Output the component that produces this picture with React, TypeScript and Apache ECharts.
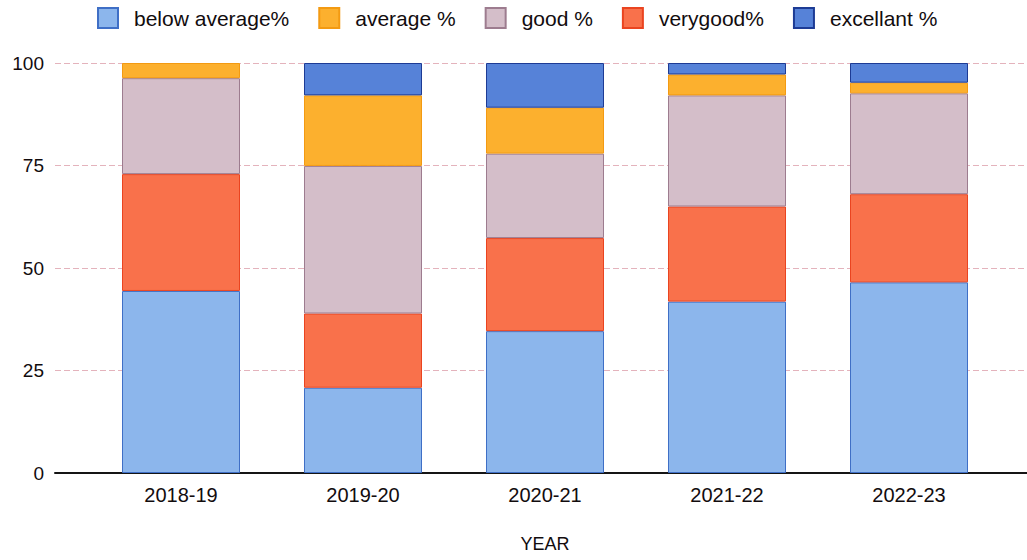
import React, { useEffect, useRef } from "react";
import * as echarts from "echarts";

// Academic years on the x axis
const years = ["2018-19", "2019-20", "2020-21", "2021-22", "2022-23"];

// Share of students (%) per grade band, per year
const belowAverage = [44.4, 20.8, 34.6, 41.8, 46.5];
const veryGood = [28.5, 18.1, 22.7, 23.2, 21.5];
const good = [23.4, 36.0, 20.6, 27.1, 24.6];
const average = [3.7, 17.2, 11.2, 5.1, 2.6];
const excellent = [0, 7.9, 10.9, 2.8, 4.8];

const yTicks = [0, 25, 50, 75, 100];

const legendOrder = ["below average%", "average %", "good %", "verygood%", "excellant %"];

const FONT = "'Liberation Sans', Arial, sans-serif";
const TEXT = "#120c0e";

export default function App() {
  const ref = useRef<HTMLDivElement>(null);

  useEffect(() => {
    if (!ref.current) return;
    const chart = echarts.init(ref.current, undefined, { renderer: "svg" });

    // a zero-height segment gets no outline so it leaves no stray line
    const seg = (name: string, data: number[], color: string, border: string) => ({
      name,
      type: "bar",
      stack: "total",
      xAxisIndex: 1,
      yAxisIndex: 1,
      barWidth: 118,
      data: data.map((v) => (v === 0 ? { value: v, itemStyle: { borderWidth: 0 } } : v)),
      itemStyle: { color, borderColor: border, borderWidth: 1 },
    });

    chart.setOption({
      animation: false,
      backgroundColor: "#ffffff",
      textStyle: { fontFamily: FONT },
      legend: {
        left: 92,
        top: 2,
        icon: "rect",
        itemWidth: 20,
        itemHeight: 20,
        itemGap: 29,
        data: legendOrder,
        textStyle: {
          fontFamily: FONT,
          fontSize: 21,
          color: TEXT,
          padding: [0, 0, 0, 11],
        },
      },
      grid: [
        // wide grid: value labels, dashed guides and the zero line
        { left: 55, right: 0, top: 63, bottom: 87, outerBoundsMode: "none", containLabel: false },
        // bar grid
        { left: 90, right: 27, top: 63, bottom: 87, outerBoundsMode: "none", containLabel: false },
      ],
      xAxis: [
        {
          type: "category",
          gridIndex: 0,
          data: years,
          axisLabel: { show: false },
          axisTick: { show: false },
          axisLine: { show: true, lineStyle: { color: "#151515", width: 2 } },
          splitLine: { show: false },
        },
        {
          type: "category",
          gridIndex: 1,
          data: years,
          axisLine: { show: false },
          axisTick: { show: false },
          axisLabel: {
            fontFamily: FONT,
            fontSize: 20,
            color: TEXT,
            margin: 12,
          },
          name: "YEAR",
          nameLocation: "middle",
          nameGap: 62,
          nameTextStyle: { fontFamily: FONT, fontSize: 18, color: TEXT },
        },
      ],
      yAxis: [
        {
          type: "value",
          gridIndex: 0,
          min: yTicks[0],
          max: yTicks[yTicks.length - 1],
          interval: 25,
          axisLine: { show: false },
          axisTick: { show: false },
          axisLabel: { fontFamily: FONT, fontSize: 19, color: TEXT, margin: 11 },
          splitLine: {
            show: true,
            lineStyle: { color: "#e4b3bc", width: 1, type: [6, 3] },
          },
        },
        {
          type: "value",
          gridIndex: 1,
          min: 0,
          max: 100,
          interval: 25,
          show: false,
          splitLine: { show: false },
        },
      ],
      series: [
        seg("below average%", belowAverage, "#8cb6ec", "#3f6fc6"),
        seg("verygood%", veryGood, "#f9714b", "#ea4420"),
        seg("good %", good, "#d4bec9", "#9d7c8f"),
        seg("average %", average, "#fcb02e", "#f39a12"),
        seg("excellant %", excellent, "#5682d8", "#1d3b95"),
      ],
    });

    return () => chart.dispose();
  }, []);

  return (
    <div
      ref={ref}
      style={{ position: "fixed", left: 0, top: 0, width: 1027, height: 560, background: "#fff" }}
    />
  );
}
